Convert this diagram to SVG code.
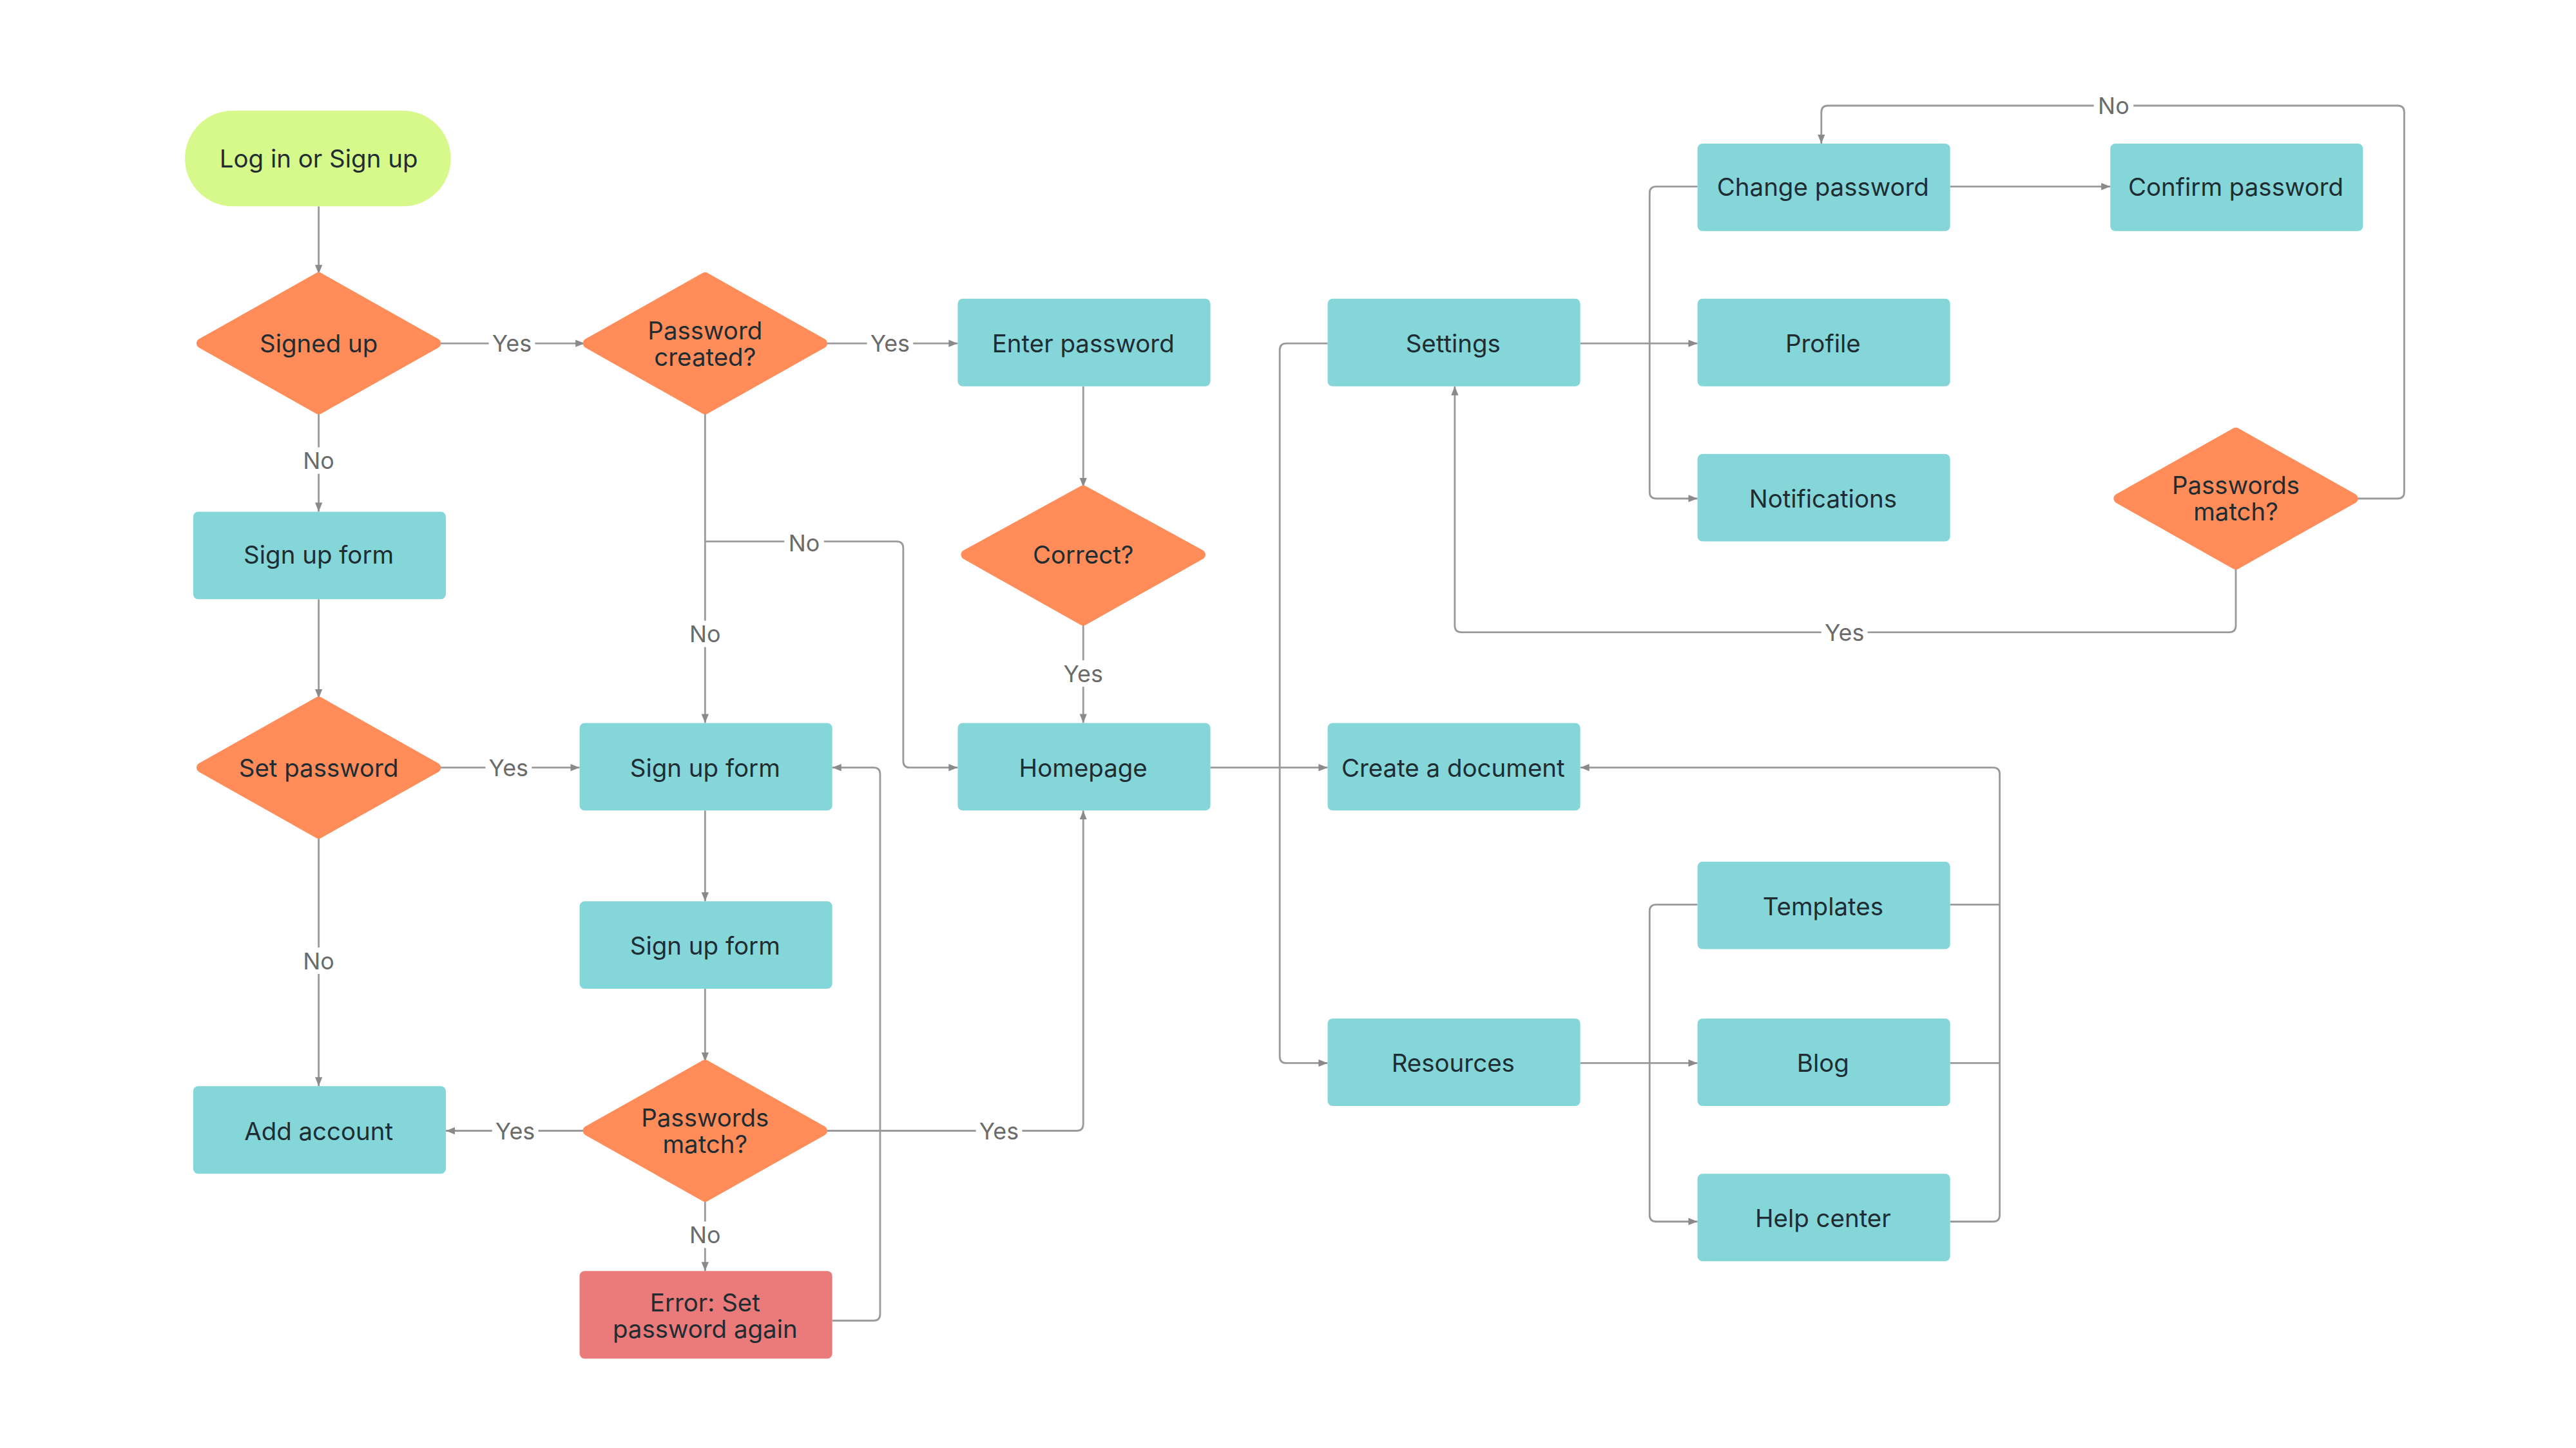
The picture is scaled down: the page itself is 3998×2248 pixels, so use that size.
<svg xmlns="http://www.w3.org/2000/svg" width="3998" height="2248" viewBox="0 0 3998 2248">
<style>
.r{fill:#84d6d9}
.d{fill:#ff8c59;stroke:#ff8c59;stroke-width:6;stroke-linejoin:round}
.t{font-family:Inter,"Liberation Sans",sans-serif;font-size:15px;fill:#1f2d33;text-anchor:middle;dominant-baseline:central}
.c path{fill:none;stroke:#9a9a9a;stroke-width:1.1}
.l{font-family:Inter,"Liberation Sans",sans-serif;font-size:14px;fill:#6b6b6b;text-anchor:middle;dominant-baseline:central}
.lb{fill:#fff}
</style>
<defs><marker id="a" viewBox="0 0 10 10" refX="10" refY="5" markerWidth="5" markerHeight="5" orient="auto"><path d="M0,1 L10,5 L0,9z" fill="#8a8a8a"/></marker></defs>
<rect width="3998" height="2248" fill="#fff"/>
<g transform="scale(2.5628)">
<g class="c">
<path d="M193,125V166" marker-end="url(#a)"/>
<path d="M266,208H354" marker-end="url(#a)"/>
<path d="M193,250V310" marker-end="url(#a)"/>
<path d="M500,208H580" marker-end="url(#a)"/>
<path d="M427,250V438" marker-end="url(#a)"/>
<path d="M427,328H543Q547,328 547,332V461Q547,465 551,465H580" marker-end="url(#a)"/>
<path d="M656,234V295" marker-end="url(#a)"/>
<path d="M656,378V438" marker-end="url(#a)"/>
<path d="M193,363V423" marker-end="url(#a)"/>
<path d="M266,465H351" marker-end="url(#a)"/>
<path d="M193,507V658" marker-end="url(#a)"/>
<path d="M427,491V546" marker-end="url(#a)"/>
<path d="M427,599V643" marker-end="url(#a)"/>
<path d="M354,685H270" marker-end="url(#a)"/>
<path d="M500,685H652Q656,685 656,681V491" marker-end="url(#a)"/>
<path d="M427,727V770" marker-end="url(#a)"/>
<path d="M504,800H529Q533,800 533,796V469Q533,465 529,465H504" marker-end="url(#a)"/>
<path d="M733,465H804" marker-end="url(#a)"/>
<path d="M804,208H779Q775,208 775,212V640Q775,644 779,644H804" marker-end="url(#a)"/>
<path d="M957,208H1028" marker-end="url(#a)"/>
<path d="M1028,113H1003Q999,113 999,117V298Q999,302 1003,302H1028" marker-end="url(#a)"/>
<path d="M1181,113H1278" marker-end="url(#a)"/>
<path d="M1427,302H1452Q1456,302 1456,298V68Q1456,64 1452,64H1107Q1103,64 1103,68V87" marker-end="url(#a)"/>
<path d="M1354,344V379Q1354,383 1350,383H885Q881,383 881,379V234" marker-end="url(#a)"/>
<path d="M957,644H1028" marker-end="url(#a)"/>
<path d="M1028,548H1003Q999,548 999,552V736Q999,740 1003,740H1028" marker-end="url(#a)"/>
<path d="M1181,548H1211M1181,644H1211M1181,740H1207Q1211,740 1211,736V469Q1211,465 1207,465H957" marker-end="url(#a)"/>
</g>
<g id="labels">
<rect class="lb" x="296" y="200" width="28" height="16"/><text class="l" x="310" y="208">Yes</text>
<rect class="lb" x="181" y="271" width="24" height="16"/><text class="l" x="193" y="279">No</text>
<rect class="lb" x="525" y="200" width="28" height="16"/><text class="l" x="539" y="208">Yes</text>
<rect class="lb" x="475" y="321" width="24" height="16"/><text class="l" x="487" y="329">No</text>
<rect class="lb" x="415" y="376" width="24" height="16"/><text class="l" x="427" y="384">No</text>
<rect class="lb" x="642" y="400" width="28" height="16"/><text class="l" x="656" y="408">Yes</text>
<rect class="lb" x="294" y="457" width="28" height="16"/><text class="l" x="308" y="465">Yes</text>
<rect class="lb" x="181" y="574" width="24" height="16"/><text class="l" x="193" y="582">No</text>
<rect class="lb" x="298" y="677" width="28" height="16"/><text class="l" x="312" y="685">Yes</text>
<rect class="lb" x="591" y="677" width="28" height="16"/><text class="l" x="605" y="685">Yes</text>
<rect class="lb" x="415" y="740" width="24" height="16"/><text class="l" x="427" y="748">No</text>
<rect class="lb" x="1268" y="56" width="24" height="16"/><text class="l" x="1280" y="64">No</text>
<rect class="lb" x="1103" y="375" width="28" height="16"/><text class="l" x="1117" y="383">Yes</text>
</g>
<g id="start"><rect x="112" y="67" width="161" height="58" rx="29" fill="#d7f98c"/><text class="t" x="193" y="96">Log in or Sign up</text></g>
<g id="signedup"><polygon class="d" points="193,168 264,208 193,248 122,208"/><text class="t" x="193" y="208">Signed up</text></g>
<g id="pwcreated"><polygon class="d" points="427,168 498,208 427,248 356,208"/><text class="t" x="427" y="200">Password</text><text class="t" x="427" y="216">created?</text></g>
<g id="enterpw"><rect class="r" x="580" y="181" width="153" height="53" rx="3"/><text class="t" x="656" y="208">Enter password</text></g>
<g id="settings"><rect class="r" x="804" y="181" width="153" height="53" rx="3"/><text class="t" x="880" y="208">Settings</text></g>
<g id="changepw"><rect class="r" x="1028" y="87" width="153" height="53" rx="3"/><text class="t" x="1104" y="113">Change password</text></g>
<g id="confirmpw"><rect class="r" x="1278" y="87" width="153" height="53" rx="3"/><text class="t" x="1354" y="113">Confirm password</text></g>
<g id="profile"><rect class="r" x="1028" y="181" width="153" height="53" rx="3"/><text class="t" x="1104" y="208">Profile</text></g>
<g id="notifications"><rect class="r" x="1028" y="275" width="153" height="53" rx="3"/><text class="t" x="1104" y="302">Notifications</text></g>
<g id="pwmatch2"><polygon class="d" points="1354,262 1425,302 1354,342 1283,302"/><text class="t" x="1354" y="294">Passwords</text><text class="t" x="1354" y="310">match?</text></g>
<g id="signupform1"><rect class="r" x="117" y="310" width="153" height="53" rx="3"/><text class="t" x="193" y="336">Sign up form</text></g>
<g id="correct"><polygon class="d" points="656,297 727,336 656,376 585,336"/><text class="t" x="656" y="336">Correct?</text></g>
<g id="setpw"><polygon class="d" points="193,425 264,465 193,505 122,465"/><text class="t" x="193" y="465">Set password</text></g>
<g id="signupform2"><rect class="r" x="351" y="438" width="153" height="53" rx="3"/><text class="t" x="427" y="465">Sign up form</text></g>
<g id="homepage"><rect class="r" x="580" y="438" width="153" height="53" rx="3"/><text class="t" x="656" y="465">Homepage</text></g>
<g id="createdoc"><rect class="r" x="804" y="438" width="153" height="53" rx="3"/><text class="t" x="880" y="465">Create a document</text></g>
<g id="signupform3"><rect class="r" x="351" y="546" width="153" height="53" rx="3"/><text class="t" x="427" y="573">Sign up form</text></g>
<g id="templates"><rect class="r" x="1028" y="522" width="153" height="53" rx="3"/><text class="t" x="1104" y="549">Templates</text></g>
<g id="resources"><rect class="r" x="804" y="617" width="153" height="53" rx="3"/><text class="t" x="880" y="644">Resources</text></g>
<g id="blog"><rect class="r" x="1028" y="617" width="153" height="53" rx="3"/><text class="t" x="1104" y="644">Blog</text></g>
<g id="pwmatch1"><polygon class="d" points="427,645 498,685 427,725 356,685"/><text class="t" x="427" y="677">Passwords</text><text class="t" x="427" y="693">match?</text></g>
<g id="addaccount"><rect class="r" x="117" y="658" width="153" height="53" rx="3"/><text class="t" x="193" y="685">Add account</text></g>
<g id="helpcenter"><rect class="r" x="1028" y="711" width="153" height="53" rx="3"/><text class="t" x="1104" y="738">Help center</text></g>
<g id="error"><rect x="351" y="770" width="153" height="53" rx="3" fill="#eb7a7a"/><text class="t" x="427" y="789">Error: Set</text><text class="t" x="427" y="805">password again</text></g>
</g>
</svg>
